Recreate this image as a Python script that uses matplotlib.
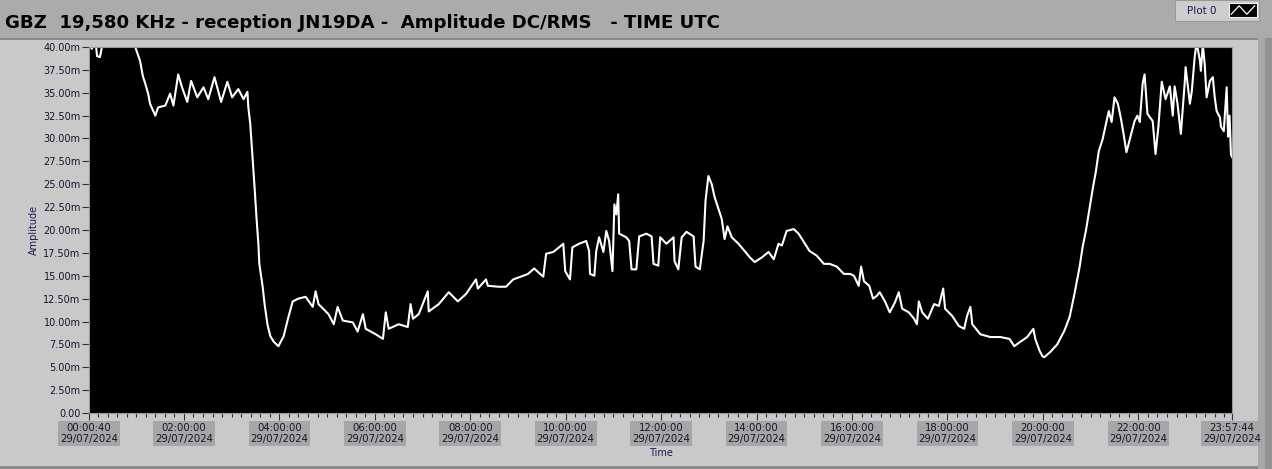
import matplotlib.pyplot as plt
from matplotlib.patches import Rectangle
from matplotlib.ticker import MultipleLocator

# time of day in hours (UTC) and received amplitude in mV
time_h = [
    0.01, 0.07, 0.14, 0.18, 0.24, 0.30, 0.37, 0.56, 0.77, 0.93, 0.98,
    1.08, 1.14, 1.19, 1.25, 1.29, 1.40, 1.46, 1.61, 1.71, 1.78, 1.88, 1.96,
    2.07, 2.15, 2.28, 2.41, 2.51, 2.64, 2.78, 2.91, 3.01, 3.14, 3.25, 3.33,
    3.35, 3.39, 3.43, 3.48, 3.52, 3.56, 3.58, 3.65, 3.69, 3.75, 3.81, 3.88,
    3.98, 4.09, 4.19, 4.28, 4.40, 4.55, 4.70, 4.76, 4.82, 5.03, 5.14, 5.22,
    5.33, 5.54, 5.64, 5.75, 5.81, 6.02, 6.17, 6.23, 6.29, 6.50, 6.69, 6.75,
    6.80, 6.92, 7.11, 7.13, 7.34, 7.55, 7.74, 7.91, 8.12, 8.16, 8.33, 8.37,
    8.60, 8.75, 8.90, 9.06, 9.21, 9.34, 9.42, 9.53, 9.59, 9.74, 9.86, 9.95,
    9.99, 10.09, 10.14, 10.28, 10.43, 10.49, 10.51, 10.60, 10.64, 10.70,
    10.79, 10.85, 10.91, 10.98, 11.02, 11.06, 11.10, 11.12, 11.27, 11.33,
    11.38, 11.48, 11.54, 11.69, 11.80, 11.84, 11.94, 11.98, 12.11, 12.26,
    12.28, 12.36, 12.43, 12.53, 12.68, 12.72, 12.81, 12.89, 12.93, 12.99,
    13.06, 13.12, 13.20, 13.27, 13.33, 13.39, 13.48, 13.62, 13.75, 13.86,
    13.96, 14.11, 14.25, 14.36, 14.46, 14.53, 14.63, 14.78, 14.88, 14.99,
    15.11, 15.26, 15.41, 15.53, 15.68, 15.83, 15.96, 16.04, 16.14, 16.19,
    16.25, 16.36, 16.44, 16.52, 16.58, 16.69, 16.79, 16.90, 16.98, 17.05,
    17.19, 17.30, 17.36, 17.40, 17.47, 17.59, 17.72, 17.82, 17.91, 17.95,
    18.10, 18.24, 18.35, 18.41, 18.48, 18.52, 18.69, 18.90, 19.11, 19.30,
    19.40, 19.53, 19.67, 19.80, 19.84, 19.93, 19.99, 20.03, 20.16, 20.30,
    20.45, 20.56, 20.66, 20.77, 20.83, 20.90, 20.98, 21.05, 21.11, 21.17,
    21.25, 21.32, 21.38, 21.44, 21.50, 21.57, 21.63, 21.69, 21.75, 21.84,
    21.92, 21.98, 22.03, 22.09, 22.13, 22.19, 22.30, 22.36, 22.42, 22.49,
    22.57, 22.66, 22.72, 22.76, 22.82, 22.89, 22.97, 22.99, 23.08, 23.12,
    23.18, 23.22, 23.29, 23.31, 23.35, 23.39, 23.43, 23.50, 23.56, 23.60,
    23.64, 23.71, 23.73, 23.79, 23.85, 23.88, 23.91, 23.94, 23.96,
]
amp_mv = [
    40.5, 39.8, 41.0, 39.0, 38.9, 40.5, 42.0, 44.0, 43.0, 41.0, 40.0,
    38.5, 36.8, 36.0, 34.9, 33.8, 32.5, 33.4, 33.6, 34.9, 33.6, 37.0, 35.6,
    34.0, 36.3, 34.5, 35.6, 34.3, 36.7, 34.0, 36.2, 34.5, 35.4, 34.3, 35.1,
    33.4, 31.6, 28.6, 24.7, 21.4, 18.5, 16.3, 13.8, 11.9, 9.7, 8.4, 7.8,
    7.3, 8.4, 10.5, 12.2, 12.5, 12.7, 11.6, 13.3, 11.9, 10.8, 9.7, 11.6,
    10.1, 9.9, 8.9, 10.8, 9.2, 8.6, 8.1, 11.0, 9.2, 9.7, 9.4, 11.9,
    10.3, 10.8, 13.3, 11.1, 11.9, 13.2, 12.2, 13.0, 14.6, 13.6, 14.6, 13.9,
    13.8, 13.8, 14.6, 14.9, 15.2, 15.8, 15.4, 14.9, 17.4, 17.6, 18.1, 18.5,
    15.5, 14.6, 18.1, 18.5, 18.8, 17.7, 15.2, 15.0, 17.7, 19.2,
    17.6, 19.9, 18.8, 15.5, 22.8, 21.7, 23.9, 19.6, 19.2, 18.8,
    15.7, 15.7, 19.3, 19.6, 19.3, 16.3, 16.1, 19.2, 18.5, 19.2,
    16.6, 15.7, 19.2, 19.8, 19.3, 16.0, 15.7, 18.8, 23.2, 25.9,
    25.0, 23.6, 22.3, 21.2, 19.0, 20.4, 19.2, 18.5, 17.7, 17.0,
    16.5, 17.0, 17.6, 16.8, 18.5, 18.3, 19.9, 20.1, 19.6, 18.7,
    17.7, 17.2, 16.3, 16.3, 16.0, 15.2, 15.2, 15.0, 13.9, 16.0,
    14.4, 13.9, 12.5, 12.8, 13.2, 12.2, 11.0, 12.1, 13.2, 11.4,
    11.0, 10.3, 9.7, 12.2, 11.0, 10.3, 11.9, 11.7, 13.6, 11.4,
    10.6, 9.5, 9.2, 10.6, 11.6, 9.7, 8.6, 8.3, 8.3, 8.1,
    7.3, 7.8, 8.3, 9.2, 8.1, 6.8, 6.2, 6.1, 6.7, 7.5,
    9.0, 10.5, 13.0, 16.0, 18.1, 19.9, 22.5, 24.7, 26.4, 28.6,
    29.9, 31.6, 33.0, 31.8, 34.5, 33.8, 32.3, 30.5, 28.5, 30.3,
    31.9, 32.5, 31.8, 36.0, 37.0, 32.7, 31.9, 28.3, 31.3, 36.2,
    34.3, 35.7, 32.5, 35.7, 33.8, 30.5, 36.0, 37.8, 33.8, 35.2,
    38.9, 40.5, 38.5, 37.4, 40.3, 38.1, 34.5, 36.3, 36.7, 34.5,
    33.0, 32.3, 31.3, 30.8, 35.6, 30.2, 32.5, 28.3, 28.0,
]

x_ticks = [0.011, 2, 4, 6, 8, 10, 12, 14, 16, 18, 20, 22, 23.962]
x_labels = ["00:00:40", "02:00:00", "04:00:00", "06:00:00", "08:00:00",
            "10:00:00", "12:00:00", "14:00:00", "16:00:00", "18:00:00",
            "20:00:00", "22:00:00", "23:57:44"]
date_str = "29/07/2024"
y_ticks = [i * 2.5 for i in range(17)]

W, H = 1272, 469
fig = plt.figure(figsize=(W / 100, H / 100), dpi=100)
fig.patch.set_facecolor("#c9c9c9")


def frame_rect(x, y, w, h, fc, ec="none", lw=0, z=0):
    # rectangle in pixel coordinates, y measured from the top
    fig.add_artist(Rectangle((x / W, 1 - (y + h) / H), w / W, h / H,
                             transform=fig.transFigure, facecolor=fc,
                             edgecolor=ec, lw=lw, zorder=z))


# LabVIEW-style frame pieces
frame_rect(0, 0, W, 38, "#ababab")
frame_rect(0, 38, 1258, 2, "#8a8a8a")
frame_rect(1258, 38, 7, H - 38, "#a8a8a8")
frame_rect(1265, 38, 7, H - 38, "#929292")
frame_rect(0, H - 3, 1258, 3, "#8a8a8a")
frame_rect(1175, 0, 84, 21, "#cdcdcd", ec="#9a9a9a", lw=0.8, z=1)

fig.text(1202 / W, 1 - 11 / H, "Plot 0", fontsize=7.5, color="#1c1c50",
         ha="center", va="center")
lg = fig.add_axes([1229 / W, 1 - 17 / H, 28 / W, 14 / H])
lg.set_zorder(3)
lg.set_facecolor("black")
lg.plot([0, 1, 2, 3], [0.2, 0.8, 0.2, 0.8], color="white", lw=0.9)
lg.set_xlim(-0.3, 3.3)
lg.set_ylim(0, 1)
lg.set_xticks([])
lg.set_yticks([])
for s in lg.spines.values():
    s.set_color("#f0f0f0")

fig.text(5 / W, 1 - 23 / H,
         "GBZ  19,580 KHz - reception JN19DA -  Amplitude DC/RMS   - TIME UTC",
         fontsize=13.1, fontweight="bold", color="black", ha="left", va="center")

ax = fig.add_axes([89 / W, 1 - 413 / H, (1232 - 89) / W, (413 - 47) / H])
ax.set_zorder(2)
ax.set_facecolor("black")
ax.plot(time_h, amp_mv, color="white", lw=1.5)
ax.set_xlim(x_ticks[0], x_ticks[-1])
ax.set_ylim(0, 40)

ax.set_yticks(y_ticks)
ax.set_yticklabels(["0.00" if v == 0 else f"{v:.2f}m" for v in y_ticks])
ax.set_xticks(x_ticks)
ax.set_xticklabels([f"{t}\n{date_str}" for t in x_labels])
ax.xaxis.set_minor_locator(MultipleLocator(0.2))
ax.tick_params(axis="y", labelsize=7, labelcolor="#15152e", length=5, width=0.8,
               color="#303030", pad=1)
ax.tick_params(axis="x", which="major", labelsize=7.3, labelcolor="#15152e",
               length=5, width=0.8, color="#303030", pad=2)
ax.tick_params(axis="x", which="minor", length=3, width=0.8, color="#303030")
for lab in ax.get_xticklabels():
    lab.set_linespacing(1.2)
    lab.set_bbox(dict(facecolor="#a6a6a6", edgecolor="none", pad=1.3))
for s in ax.spines.values():
    s.set_color("#9a9a9a")
    s.set_linewidth(0.8)

ax.set_xlabel("Time", fontsize=7, color="#1c1c50", labelpad=3)
ax.set_ylabel("Amplitude", fontsize=7, color="#1c1c50", labelpad=3)

fig.savefig("out.png", dpi=100, facecolor=fig.get_facecolor())
